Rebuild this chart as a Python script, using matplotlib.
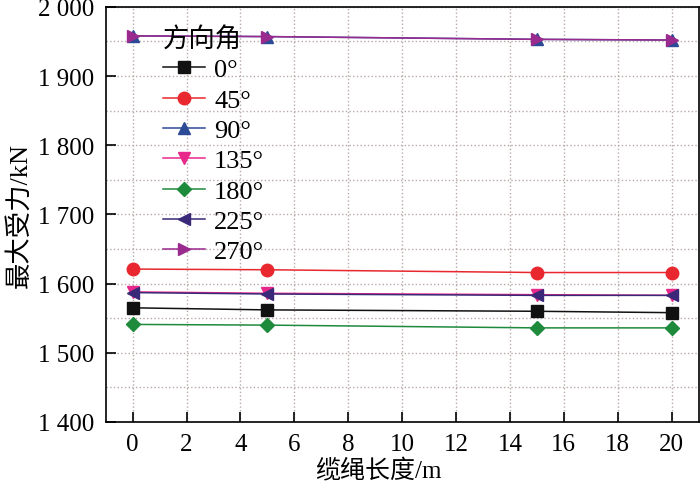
"""
Maximum force versus mooring line length for several heading angles.
"""

from matplotlib import pyplot as plt
from matplotlib.ticker import MultipleLocator, FuncFormatter


OUTPUT_FILE = "out.png"

lengths = [0, 5, 15, 20]
angle_labels = ["0°", "45°", "90°", "135°", "180°", "225°", "270°"]
force_0 = [1565, 1562, 1560, 1558]
force_45 = [1621, 1620, 1616, 1616]
force_90 = [1958, 1957, 1953, 1952]
force_135 = [1588, 1586, 1584, 1583]
force_180 = [1541, 1540, 1536, 1536]
force_225 = [1587, 1585, 1583, 1583]
force_270 = [1958, 1957, 1953, 1952]

colors = ["#111111", "#e8282e", "#2c4a96", "#e8288a", "#1e8a3c", "#3a2878", "#9a2a8e"]
markers = ["s", "o", "^", "v", "D", "<", ">"]
marker_sizes = [8.5, 9, 9, 9, 7.5, 9, 9]


def plot(output_file: str = OUTPUT_FILE):
    plt.rcParams["font.family"] = ["Liberation Serif", "Noto Sans CJK SC"]

    fig = plt.figure(figsize=(7.0, 4.89), dpi=100)
    ax = fig.add_axes([0.151, 0.135, 0.847, 0.849])

    series = [force_0, force_45, force_90, force_135, force_180, force_225, force_270]
    for values, label, color, marker, ms in zip(series, angle_labels, colors, markers, marker_sizes):
        ax.plot(lengths, values, color=color, marker=marker, markersize=ms,
                linewidth=1.1, label=label)

    ax.set_xlim(-1, 21)
    ax.set_ylim(1400, 2000)
    ax.xaxis.set_major_locator(MultipleLocator(2))
    ax.yaxis.set_major_locator(MultipleLocator(100))
    ax.yaxis.set_minor_locator(MultipleLocator(50))
    ax.yaxis.set_major_formatter(FuncFormatter(lambda v, p: f"{int(v):,}".replace(",", " ")))

    ax.tick_params(axis="both", which="major", direction="in", length=7, width=1.2,
                   labelsize=18, top=False, right=False, pad=8)
    ax.tick_params(axis="y", which="minor", length=0)
    ax.grid(True, which="both", axis="y", linestyle=":", color="#b8a8a8", linewidth=1.0)
    ax.grid(True, which="major", axis="x", linestyle=":", color="#b8a8a8", linewidth=1.0)
    ax.set_axisbelow(True)
    for spine in ax.spines.values():
        spine.set_linewidth(1.2)

    ax.set_xlabel("缆绳长度/m", fontsize=18)
    ax.xaxis.set_label_coords(0.46, -0.085)
    ax.set_ylabel("最大受力/kN", fontsize=19)
    ax.yaxis.set_label_coords(-0.125, 0.5)

    leg = ax.legend(title="方向角", frameon=False, fontsize=19, title_fontsize=19,
                    loc="upper left", bbox_to_anchor=(0.065, 0.998), handlelength=1.6,
                    labelspacing=0.26, borderaxespad=0.3, handletextpad=0.35)
    leg._legend_box.align = "left"

    fig.savefig(output_file)
    print(f"Written to {output_file}")


if __name__ == "__main__":
    plot()
